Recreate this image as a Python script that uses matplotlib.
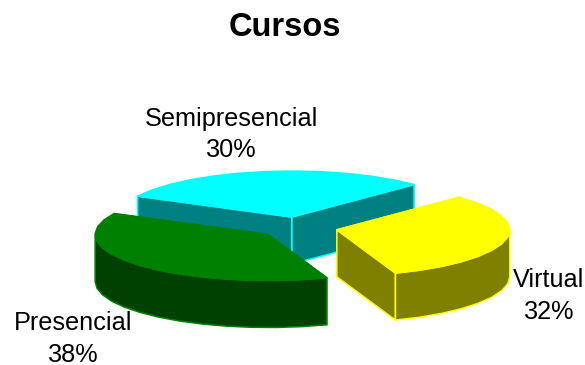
import numpy as np
import matplotlib
matplotlib.use("Agg")
import matplotlib.pyplot as plt
from matplotlib.patches import Polygon

title = "Cursos"
labels = ["Semipresencial", "Virtual", "Presencial"]
values = [30, 32, 38]
top_colors = ["#00FFFF", "#FFFF00", "#008000"]
side_colors = ["#008080", "#808000", "#004000"]
label_pos = [(231, 134.5), (549, 296), (73, 339)]

A, B = 173.0, 46.0      # ellipse semi-axes
DEPTH = 47.0
CX, CY = 298.0, 227.5   # undisplaced pie centre
EXPLODE = 0.23
START = -63.0           # degrees clockwise from the top
STEP = 9.0              # facet size of the arc

plt.rcParams["font.family"] = ["Liberation Sans", "DejaVu Sans"]
fig = plt.figure(figsize=(5.85, 3.65), dpi=100)
ax = fig.add_axes([0, 0, 1, 1])
ax.set_xlim(0, 585)
ax.set_ylim(365, 0)
ax.axis("off")


def rim(cx, cy, t):
    r = np.radians(t)
    return np.column_stack([cx + A * np.sin(r), cy - B * np.cos(r)])


def arc_angles(t0, t1):
    n = max(int(np.ceil((t1 - t0) / STEP)), 1)
    return np.linspace(t0, t1, n + 1)


def poly(pts, face, edge, z):
    ax.add_patch(Polygon(pts, closed=True, facecolor=face, edgecolor=edge,
                         linewidth=1.1, joinstyle="round", zorder=z))


total = sum(values)
t = START
for i, (v, top, side) in enumerate(zip(values, top_colors, side_colors)):
    sweep = 360.0 * v / total
    t0, t1 = t, t + sweep
    t = t1
    mid = (t0 + t1) / 2
    off = rim(0, 0, np.array([mid]))[0] * EXPLODE
    cx, cy = CX + off[0], CY + off[1]
    apex = np.array([cx, cy])
    down = np.array([0, DEPTH])
    z = 10 * (i + 1)
    ends = rim(cx, cy, np.array([t0, t1]))
    # radial walls, farther end first
    for e in sorted(ends, key=lambda p: p[1]):
        poly(np.vstack([apex, e, e + down, apex + down]), side, top, z)
    # visible outer wall: the front half of the rim
    a, b = max(t0, 90.0), min(t1, 270.0)
    if b > a:
        p = rim(cx, cy, arc_angles(a, b))
        poly(np.vstack([p, (p + down)[::-1]]), side, top, z + 1)
    # top face
    p = rim(cx, cy, arc_angles(t0, t1))
    poly(np.vstack([apex, p]), top, top, z + 2)

ax.text(285, 28, title, ha="center", va="center", fontsize=23.5, fontweight="bold",
        color="black", zorder=100)
for lab, v, (x, y) in zip(labels, values, label_pos):
    ax.text(x, y, f"{lab}\n{v}%", ha="center", va="center", fontsize=18.2,
            linespacing=1.37, color="black", zorder=100)

fig.savefig("out.png", dpi=100)
